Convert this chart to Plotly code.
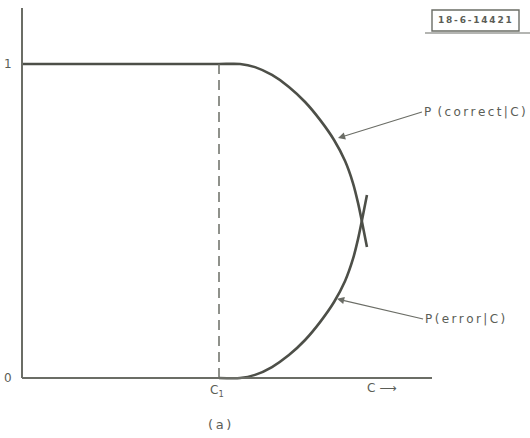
import plotly.graph_objects as go

# Probability of a correct decision versus the threshold C
c_correct = [0.0, 1.00, 1.107, 1.183, 1.269, 1.355, 1.437, 1.513, 1.584, 1.640, 1.680, 1.706, 1.726, 1.751]
p_correct = [1.0, 1.0, 1.0, 0.990, 0.965, 0.927, 0.879, 0.822, 0.758, 0.691, 0.621, 0.557, 0.497, 0.417]

# Probability of an error versus the threshold C
c_error = [1.00, 1.107, 1.183, 1.269, 1.355, 1.437, 1.513, 1.584, 1.640, 1.680, 1.706, 1.726, 1.751]
p_error = [0.0, 0.0, 0.010, 0.035, 0.073, 0.121, 0.178, 0.242, 0.309, 0.379, 0.443, 0.503, 0.583]

c1 = 1.0
y_ticks = [0, 1]
y_tick_text = ["0", "1"]

W, H = 530, 438
X0_PX, C1_PX = 22, 219          # pixel positions of C=0 and C=C1
Y0_PX, Y1_PX = 378, 64          # pixel positions of P=0 and P=1
sx = (C1_PX - X0_PX) / c1
sy = (Y0_PX - Y1_PX)
x_range = [-X0_PX / sx, (W - X0_PX) / sx]
y_range = [-(H - Y0_PX) / sy, Y0_PX / sy]

ink = "#4d4f48"
axis_ink = "#6b6d66"
text_ink = "#5b5d56"
font = dict(family="DejaVu Sans", size=12, color=text_ink)
ts = "\u2009"  # thin space for the spaced-out lettering


def spaced(s):
    return ts.join(s)


fig = go.Figure()
for cx, py in ((c_correct, p_correct), (c_error, p_error)):
    fig.add_trace(go.Scatter(x=cx, y=py, mode="lines",
                             line=dict(color=ink, width=2.6, shape="spline", smoothing=0.6),
                             hoverinfo="skip"))

shapes = [
    # vertical axis
    dict(type="line", xref="x", yref="y", x0=0, x1=0, y0=0, y1=(Y0_PX - 8) / sy,
         line=dict(color=axis_ink, width=2)),
    # horizontal axis
    dict(type="line", xref="x", yref="y", x0=0, x1=(432 - X0_PX) / sx, y0=0, y1=0,
         line=dict(color=axis_ink, width=2)),
    # dashed marker at C1
    dict(type="line", xref="x", yref="y", x0=c1, x1=c1, y0=0, y1=1,
         line=dict(color=axis_ink, width=1.5, dash="10px,6px")),
    # drawing number box
    dict(type="rect", xref="paper", yref="paper",
         x0=432 / W, x1=519 / W, y0=1 - 31 / H, y1=1 - 10 / H,
         line=dict(color=axis_ink, width=1.4)),
    dict(type="line", xref="paper", yref="paper",
         x0=425 / W, x1=1, y0=1 - 33 / H, y1=1 - 33 / H,
         line=dict(color=axis_ink, width=1.2)),
]

annotations = []
for v, t in zip(y_ticks, y_tick_text):
    annotations.append(dict(x=-8 / sx, y=v, xref="x", yref="y", text=t,
                            showarrow=False, font=font, xanchor="right", yanchor="middle"))

annotations += [
    dict(x=c1 - 2 / sx, y=-13 / sy, xref="x", yref="y", text="C<sub>1</sub>",
         showarrow=False, font=font, xanchor="center", yanchor="middle"),
    dict(x=(365 - X0_PX) / sx, y=-10 / sy, xref="x", yref="y", text="C ⟶",
         showarrow=False, font=font, xanchor="left", yanchor="middle"),
    dict(x=c1, y=-46 / sy, xref="x", yref="y", text=spaced("(a)"),
         showarrow=False, font=dict(family="DejaVu Sans", size=13, color=text_ink),
         xanchor="center", yanchor="middle"),
    dict(x=475 / W, y=1 - 20 / H, xref="paper", yref="paper",
         text="<b>" + spaced("18-6-14421") + "</b>",
         showarrow=False, font=dict(family="DejaVu Sans", size=9, color=text_ink),
         xanchor="center", yanchor="middle"),
    # curve labels with leader arrows
    dict(x=1.604, y=0.764, ax=2.03, ay=0.847, xref="x", yref="y", axref="x", ayref="y",
         text="P\u00a0" + ts + spaced("(correct|C)"), font=font, xanchor="left",
         yanchor="middle", showarrow=True, arrowhead=2, arrowsize=1.2, arrowwidth=1.2,
         arrowcolor=axis_ink),
    dict(x=1.599, y=0.252, ax=2.036, ay=0.188, xref="x", yref="y", axref="x", ayref="y",
         text=spaced("P(error|C)"), font=font, xanchor="left", yanchor="middle",
         showarrow=True, arrowhead=2, arrowsize=1.2, arrowwidth=1.2,
         arrowcolor=axis_ink),
]

fig.update_layout(
    width=W, height=H,
    margin=dict(l=0, r=0, t=0, b=0),
    paper_bgcolor="white", plot_bgcolor="white",
    showlegend=False,
    xaxis=dict(range=x_range, visible=False, fixedrange=True),
    yaxis=dict(range=y_range, visible=False, fixedrange=True),
    shapes=shapes, annotations=annotations,
)

fig.write_html("out.html")
